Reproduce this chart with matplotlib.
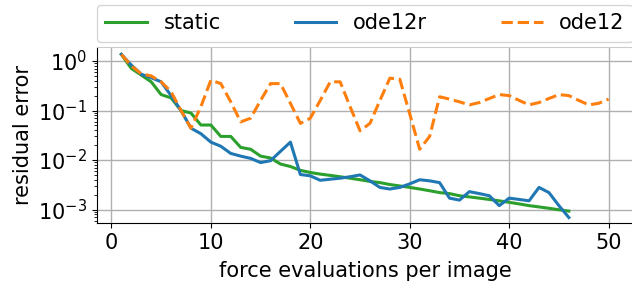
import numpy as np
import matplotlib
matplotlib.use('Agg')
import matplotlib.pyplot as plt

plt.rcParams['font.size'] = 15

# residual error vs force evaluations
x_static = list(range(1, 47))
static = [1.36, 0.71, 0.52, 0.38, 0.21, 0.18, 0.10, 0.089, 0.051, 0.051,
          0.030, 0.030, 0.018, 0.0165, 0.012, 0.011, 0.0083, 0.0074, 0.0062, 0.0056,
          0.0052, 0.0049, 0.0046, 0.0043, 0.0040, 0.0037, 0.0035, 0.0032, 0.0030, 0.0028,
          0.0026, 0.0024, 0.0022, 0.0021, 0.0019, 0.0018, 0.0017, 0.0016, 0.0015, 0.0014,
          0.0013, 0.0012, 0.00113, 0.00106, 0.00099, 0.00093]

x_ode12r = list(range(1, 47))
ode12r = [1.36, 0.83, 0.54, 0.46, 0.38, 0.20, 0.10, 0.044, 0.034, 0.023,
          0.019, 0.0136, 0.012, 0.0108, 0.0089, 0.0097, 0.015, 0.023, 0.0051, 0.0048,
          0.0039, 0.0041, 0.0043, 0.0046, 0.0050, 0.0038, 0.0028, 0.0026, 0.0028, 0.0033,
          0.0040, 0.0038, 0.0035, 0.0017, 0.00155, 0.0023, 0.0021, 0.0019, 0.0012, 0.0017,
          0.0016, 0.0015, 0.0028, 0.0022, 0.0012, 0.00069]

x_ode12 = list(range(1, 51))
ode12 = [1.36, 0.80, 0.55, 0.50, 0.38, 0.24, 0.10, 0.044, 0.12, 0.41,
         0.35, 0.15, 0.059, 0.07, 0.16, 0.35, 0.35, 0.14, 0.055, 0.07,
         0.16, 0.38, 0.38, 0.12, 0.039, 0.055, 0.16, 0.45, 0.43, 0.085,
         0.0165, 0.03, 0.19, 0.17, 0.15, 0.13, 0.145, 0.175, 0.21, 0.20,
         0.16, 0.13, 0.145, 0.175, 0.21, 0.20, 0.16, 0.13, 0.14, 0.17]

fig = plt.figure(figsize=(6.32, 2.82), dpi=100)
ax = fig.add_axes([97/632, 1-223/282, 536/632, 176/282])

ax.semilogy(x_static, static, color='#2ca02c', lw=2.2, label='static')
ax.semilogy(x_ode12r, ode12r, color='#1f77b4', lw=2.2, label='ode12r')
ax.semilogy(x_ode12, ode12, color='#ff7f0e', lw=2.2, ls='--', label='ode12')

ax.set_xlim(-1.45, 52.45)
ax.set_ylim(5.35e-4, 1.92)
ax.set_xticks([0, 10, 20, 30, 40, 50])
ax.set_yticks([1e-3, 1e-2, 1e-1, 1e0])
ax.grid(True, which='major', color='#b0b0b0', lw=1.0)
ax.spines['top'].set_color('0.8')

ax.set_xlabel('force evaluations per image', labelpad=6)
ax.set_ylabel('residual error')

ax.legend(bbox_to_anchor=(0, 1.03, 1, 0.2), loc='lower left', mode='expand',
          ncol=3, borderaxespad=0)

fig.savefig('out.png', dpi=100)
